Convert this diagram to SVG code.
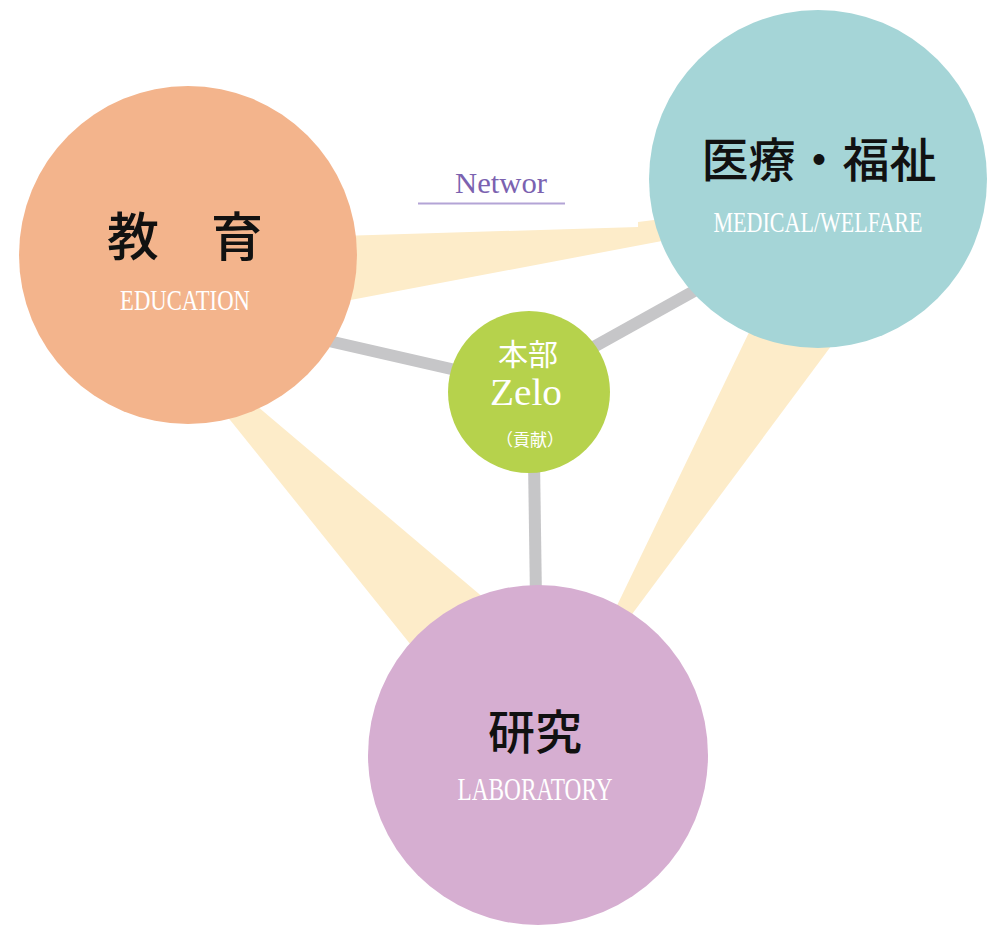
<svg xmlns="http://www.w3.org/2000/svg" width="987" height="927" viewBox="0 0 987 927">
  <style>
    .band { fill: #fdecc9; }
    .link { stroke: #c6c6c8; stroke-width: 12; stroke-linecap: butt; fill: none; }
    .jp { font-family: "Noto Sans CJK JP", "Noto Sans CJK SC", sans-serif; text-anchor: middle; }
    .title { fill: #111111; font-weight: 500; }
    .en { font-family: "Liberation Serif", "DejaVu Serif", serif; fill: #ffffff; text-anchor: middle; }
  </style>
  <rect x="0" y="0" width="987" height="927" fill="#ffffff"/>

  <g id="connectors">
    <polygon class="band" points="340,236 638,227 638,222 662,219 662,241 340,302"/>
    <polygon class="band" points="214,400 244,395 498,610 423,660"/>
    <polygon class="band" points="755,320 843,330 624,625 610,620"/>
    <line class="link" x1="320" y1="339" x2="460" y2="371"/>
    <line class="link" x1="590" y1="349" x2="705" y2="285"/>
    <line class="link" x1="534" y1="460" x2="536" y2="600"/>
    <g id="network-label">
      <text x="501" y="193" font-family="Liberation Serif, DejaVu Serif, serif" font-size="29" fill="#7b62b0" text-anchor="middle" textLength="92" lengthAdjust="spacingAndGlyphs">Networ</text>
      <line x1="418" y1="203.5" x2="565" y2="203.5" stroke="#b3a4d6" stroke-width="2"/>
    </g>
  </g>

  <g id="education">
    <circle cx="188" cy="255" r="169" fill="#f3b48c"/>
    <text class="jp title" x="185" y="256" font-size="52" textLength="156" lengthAdjust="spacing">教　育</text>
    <text class="en" x="185" y="310" font-size="29" textLength="130" lengthAdjust="spacingAndGlyphs">EDUCATION</text>
  </g>

  <g id="medical">
    <circle cx="818" cy="179" r="169" fill="#a5d5d7"/>
    <text class="jp title" x="819" y="177" font-size="47" textLength="235" lengthAdjust="spacing">医療・福祉</text>
    <text class="en" x="818" y="232" font-size="29" textLength="209" lengthAdjust="spacingAndGlyphs">MEDICAL/WELFARE</text>
  </g>

  <g id="laboratory">
    <circle cx="538" cy="755" r="170" fill="#d6aed1"/>
    <text class="jp title" x="535" y="749" font-size="47" textLength="94" lengthAdjust="spacing">研究</text>
    <text class="en" x="535" y="800" font-size="31" textLength="155" lengthAdjust="spacingAndGlyphs">LABORATORY</text>
  </g>

  <g id="zelo">
    <circle cx="529" cy="392" r="81" fill="#b6d24c"/>
    <rect x="582" y="453" width="40" height="28" fill="#ffffff"/>
    <text class="jp" x="528" y="365" font-size="30" fill="#ffffff">本部</text>
    <text class="en" x="526" y="405" font-size="38" textLength="72" lengthAdjust="spacingAndGlyphs">Zelo</text>
    <text class="jp" x="530" y="446" font-size="17" fill="#ffffff">（貢献）</text>
  </g>
</svg>
